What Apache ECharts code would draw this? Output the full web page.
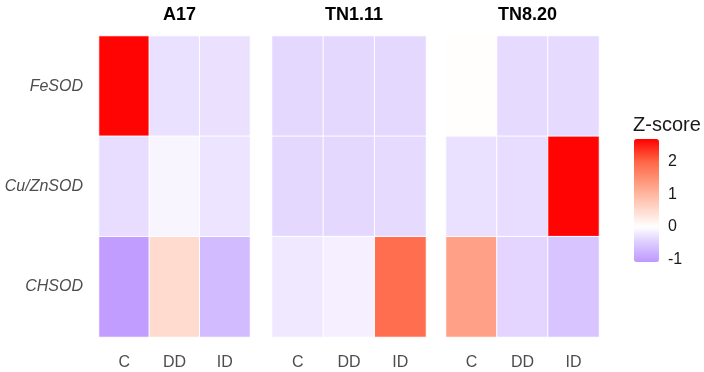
<!DOCTYPE html>
<html>
<head>
<meta charset="utf-8">
<script src="https://cdn.jsdelivr.net/npm/echarts@6/dist/echarts.min.js"></script>
<style>
  html, body { margin: 0; padding: 0; background: #fff; }
  #chart { width: 704px; height: 372px; }
</style>
</head>
<body>
<div id="chart"></div>
<script>
// данные: строки = гены, столбцы = обработки
const genes = ['FeSOD', 'Cu/ZnSOD', 'CHSOD'];
const treatments = ['C', 'DD', 'ID'];
const lines = ['A17', 'TN1.11', 'TN8.20'];
const a17 = [
  [2.67, -0.30, -0.29],
  [-0.33, -0.10, -0.26],
  [-1.03, 0.50, -0.68]
];
const tn111 = [
  [-0.37, -0.37, -0.37],
  [-0.37, -0.37, -0.35],
  [-0.22, -0.15, 1.90]
];
const tn820 = [
  [0.02, -0.35, -0.35],
  [-0.30, -0.33, 2.67],
  [1.28, -0.40, -0.58]
];
const legendTicks = [-1, 0, 1, 2];
const zMin = -1.08;
const zMax = 2.7;

const panels = [a17, tn111, tn820];
const FONT = 'Liberation Sans, Arial, sans-serif';

// опорные цвета шкалы (значение -> цвет)
const anchors = [
  [-1.08, [189, 153, 255]],
  [-0.5, [220, 203, 255]],
  [0, [255, 255, 255]],
  [1, [255, 183, 160]],
  [2, [255, 103, 70]],
  [2.7, [255, 0, 0]]
];

function colorAt(v) {
  for (let i = 0; i < anchors.length - 1; i++) {
    const [v0, c0] = anchors[i];
    const [v1, c1] = anchors[i + 1];
    if (v <= v1 || i === anchors.length - 2) {
      const t = Math.max(0, Math.min(1, (v - v0) / (v1 - v0)));
      const c = c0.map((x, k) => Math.round(x + (c1[k] - x) * t));
      return 'rgb(' + c.join(',') + ')';
    }
  }
}

const stops = [];
const N = 80;
for (let i = 0; i <= N; i++) {
  stops.push(colorAt(zMin + (zMax - zMin) * i / N));
}

// размеры панелей
const gridsPos = [
  { left: 99, width: 151 },
  { left: 272, width: 154 },
  { left: 446, width: 153 }
];

const grids = [];
const xAxes = [];
const yAxes = [];
const series = [];
const titles = [];

for (let p = 0; p < 3; p++) {
  grids.push({ left: gridsPos[p].left, width: gridsPos[p].width, top: 36, height: 301 });
  xAxes.push({
    type: 'category',
    gridIndex: p,
    data: treatments,
    axisLine: { show: false },
    axisTick: { show: false },
    splitLine: { show: false },
    axisLabel: { color: '#4d4d4d', fontSize: 16, fontFamily: FONT, margin: 18 }
  });
  yAxes.push({
    type: 'category',
    gridIndex: p,
    data: genes,
    inverse: true,
    axisLine: { show: false },
    axisTick: { show: false },
    splitLine: { show: false },
    axisLabel: {
      show: p === 0,
      color: '#4d4d4d',
      fontSize: 16,
      fontStyle: 'italic',
      fontFamily: FONT,
      margin: 16
    }
  });

  const data = [];
  panels[p].forEach((row, gi) => {
    row.forEach((v, ti) => data.push([ti, gi, v]));
  });
  series.push({
    type: 'heatmap',
    xAxisIndex: p,
    yAxisIndex: p,
    data: data,
    itemStyle: { borderColor: '#ffffff', borderWidth: 1 },
    emphasis: { disabled: true }
  });

  titles.push({
    text: lines[p],
    left: gridsPos[p].left + gridsPos[p].width / 2,
    top: 1,
    textAlign: 'center',
    textStyle: { fontSize: 18, fontWeight: 'bold', color: '#000', fontFamily: FONT }
  });
}

// легенда Z-score
titles.push({
  text: 'Z-score',
  left: 628,
  top: 110,
  textStyle: { fontSize: 20, fontWeight: 'normal', color: '#1a1a1a', fontFamily: FONT }
});

grids.push({ left: 634, top: 139, width: 25, height: 123 });
xAxes.push({
  type: 'category',
  gridIndex: 3,
  data: [''],
  show: false
});
const legendAxis = (pos, showLabel) => ({
  type: 'value',
  gridIndex: 3,
  position: pos,
  min: zMin,
  max: zMax,
  axisLine: { show: false },
  splitLine: { show: false },
  axisTick: {
    show: true,
    inside: true,
    length: 5,
    customValues: legendTicks,
    lineStyle: { color: '#ffffff', width: 1 }
  },
  axisLabel: {
    show: showLabel,
    customValues: legendTicks,
    color: '#1a1a1a',
    fontSize: 16,
    fontFamily: FONT,
    margin: 9
  }
});
yAxes.push(legendAxis('left', false));
yAxes.push(legendAxis('right', true));

const chart = echarts.init(document.getElementById('chart'));

const options = {
  animation: false,
  title: titles,
  grid: grids,
  xAxis: xAxes,
  yAxis: yAxes,
  visualMap: {
    type: 'continuous',
    min: zMin,
    max: zMax,
    seriesIndex: [0, 1, 2],
    calculable: false,
    hoverLink: false,
    left: 634,
    top: 139,
    itemWidth: 25,
    itemHeight: 123,
    padding: 0,
    text: ['', ''],
    showLabel: false,
    inRange: { color: stops }
  },
  series: series
};

chart.setOption(options);
</script>
</body>
</html>
